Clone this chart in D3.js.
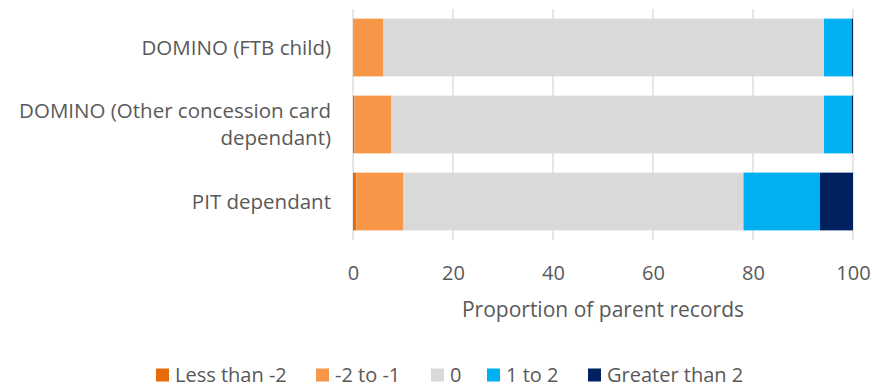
<!DOCTYPE html>
<html>
<head>
<meta charset="utf-8">
<script src="https://cdn.jsdelivr.net/npm/d3@7"></script>
<style>
  html, body { margin: 0; padding: 0; background: #fff; }
  text { font-family: "Open Sans", "Segoe UI", sans-serif; fill: #595959; }
</style>
</head>
<body>
<svg id="chart" width="872" height="389"></svg>
<script>
// Categories (top to bottom) and stacked series (percent of parent records)
const categories = [
  ["DOMINO (FTB child)"],
  ["DOMINO (Other concession card", "dependant)"],
  ["PIT dependant"]
];
const seriesNames = ["Less than -2", "-2 to -1", "0", "1 to 2", "Greater than 2"];
const lessThanMinus2 = [0.1, 0.3, 0.7];
const minus2ToMinus1 = [6.0, 7.3, 9.4];
const zero = [88.1, 86.6, 68.0];
const oneToTwo = [5.6, 5.6, 15.3];
const greaterThan2 = [0.2, 0.2, 6.6];
const xTicks = [0, 20, 40, 60, 80, 100];
const colors = ["#E46C0A", "#F79646", "#D9D9D9", "#00B0F0", "#002060"];

const seriesValues = [lessThanMinus2, minus2ToMinus1, zero, oneToTwo, greaterThan2];
const rows = categories.map((c, i) => {
  const r = { key: i };
  seriesNames.forEach((s, j) => { r[s] = seriesValues[j][i]; });
  return r;
});

const svg = d3.select("#chart");
const margin = { left: 353, right: 19, top: 9, bottom: 149 };
const W = 872, H = 389;

const x = d3.scaleLinear().domain([0, 100]).range([margin.left, W - margin.right]);
const y = d3.scaleBand().domain(d3.range(categories.length))
  .range([margin.top, H - margin.bottom]).paddingInner(0.25).paddingOuter(0.125);
const color = d3.scaleOrdinal().domain(seriesNames).range(colors);

// Vertical gridlines
svg.append("g").selectAll("line").data(xTicks).join("line")
  .attr("x1", d => x(d)).attr("x2", d => x(d))
  .attr("y1", margin.top).attr("y2", H - margin.bottom)
  .attr("stroke", "#D9D9D9").attr("stroke-width", 1.3);

// Stacked bars
const stacked = d3.stack().keys(seriesNames)(rows);
svg.append("g").selectAll("g").data(stacked).join("g")
  .attr("fill", d => color(d.key))
  .selectAll("rect").data(d => d).join("rect")
  .attr("x", d => x(d[0]))
  .attr("width", d => x(d[1]) - x(d[0]))
  .attr("y", d => y(d.data.key))
  .attr("height", y.bandwidth());

// X axis tick labels
const xAxis = d3.axisBottom(x).tickValues(xTicks).tickSize(0).tickPadding(0);
const gx = svg.append("g").attr("transform", "translate(0,280)").call(xAxis);
gx.select(".domain").remove();
gx.selectAll("text").attr("font-size", 20).attr("dy", 0)
  .style("font-family", '"Open Sans", sans-serif').attr("fill", "#595959");

// Axis title
svg.append("text").attr("x", x(50)).attr("y", 317).attr("text-anchor", "middle")
  .attr("font-size", 21).text("Proportion of parent records");

// Category labels, one text element per line
const lineH = 27;
const labelLines = [];
categories.forEach((lines, i) => {
  lines.forEach((line, k) => {
    labelLines.push({ text: line, row: i, offset: k - (lines.length - 1) / 2 });
  });
});
svg.append("g").selectAll("text").data(labelLines).join("text")
  .attr("text-anchor", "end").attr("font-size", 20.5)
  .attr("x", margin.left - 22)
  .attr("y", d => y(d.row) + y.bandwidth() / 2 + d.offset * lineH)
  .attr("dy", "0.35em")
  .text(d => d.text);

// Legend
const legendX = [156, 316, 431, 487, 588];
const lg = svg.append("g").selectAll("g").data(seriesNames).join("g")
  .attr("transform", (d, i) => `translate(${legendX[i]},375)`);
lg.append("rect").attr("x", 0).attr("y", -6.5).attr("width", 13).attr("height", 13)
  .attr("fill", d => color(d));
lg.append("text").attr("x", 19).attr("dy", "0.36em").attr("font-size", 20).text(d => d);
</script>
</body>
</html>
